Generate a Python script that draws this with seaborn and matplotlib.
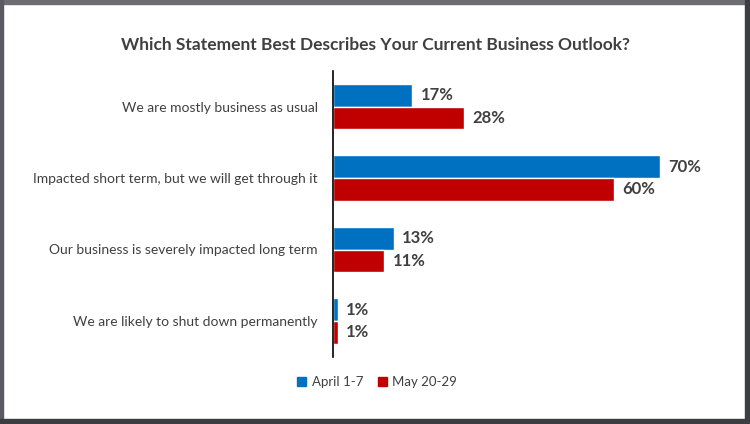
import matplotlib
matplotlib.use("Agg")
import matplotlib.pyplot as plt
import seaborn as sns
import pandas as pd
from matplotlib.patches import Rectangle

categories = [
    "We are mostly business as usual",
    "Impacted short term, but we will get through it",
    "Our business is severely impacted long term",
    "We are likely to shut down permanently",
]
series_names = ["April 1-7", "May 20-29"]
april = [17, 70, 13, 1]
may = [28, 60, 11, 1]
colors = ["#0070C0", "#C00000"]
title = "Which Statement Best Describes Your Current Business Outlook?"

rows = []
for c, a, m in zip(categories, april, may):
    rows.append({"cat": c, "series": series_names[0], "val": a})
    rows.append({"cat": c, "series": series_names[1], "val": m})
df = pd.DataFrame(rows)

sns.set_style("white")
plt.rcParams["font.family"] = ["Lato", "DejaVu Sans"]

top_px, bot_px = 70.75, 356.75
fig = plt.figure(figsize=(7.5, 4.24), dpi=100)
ax = fig.add_axes([333 / 750, 1 - bot_px / 424, (707 - 333) / 750, (bot_px - top_px) / 424])

sns.barplot(data=df, y="cat", x="val", hue="series", order=categories,
            hue_order=series_names, palette=colors, orient="h", width=0.64,
            ax=ax, legend=False, saturation=1)

ax.set_xlim(0, 80)
ax.set_ylim(3.5, -0.5)
ax.set_xlabel("")
ax.set_ylabel("")
ax.set_xticks([])
for s in ["top", "right", "bottom"]:
    ax.spines[s].set_visible(False)
ax.spines["left"].set_color("#000000")
ax.spines["left"].set_linewidth(1.2)
ax.tick_params(axis="y", length=0, pad=11, labelsize=10, labelcolor="#404040")

for cont in ax.containers:
    ax.bar_label(cont, labels=[f"{int(round(b.get_width()))}%" for b in cont],
                 padding=6, fontsize=12, fontweight="bold", color="#404040")

fig.text(0.5, 1 - 45 / 424, title, ha="center", va="center", fontsize=12.5,
         fontweight="bold", color="#404040")

handles = [Rectangle((0, 0), 1, 1, color=c) for c in colors]
fig.legend(handles, series_names, loc="center", bbox_to_anchor=(377 / 750, 1 - 382 / 424),
           ncol=2, frameon=False, fontsize=9.5, handlelength=0.7, handleheight=0.7,
           columnspacing=1.1, handletextpad=0.4, labelcolor="#404040")

# Frame border
fig.patches.append(Rectangle((0, 1 - 4 / 424), 1, 4 / 424, transform=fig.transFigure,
                             color="#6d6e71", zorder=10))
fig.patches.append(Rectangle((0, 0), 3 / 750, 1, transform=fig.transFigure,
                             color="#5a5b60", zorder=10))
fig.patches.append(Rectangle((1 - 5 / 750, 0), 5 / 750, 1, transform=fig.transFigure,
                             color="#3c3d42", zorder=10))
fig.patches.append(Rectangle((0, 0), 1, 5 / 424, transform=fig.transFigure,
                             color="#3c3d42", zorder=10))

fig.savefig("out.png", dpi=100)
